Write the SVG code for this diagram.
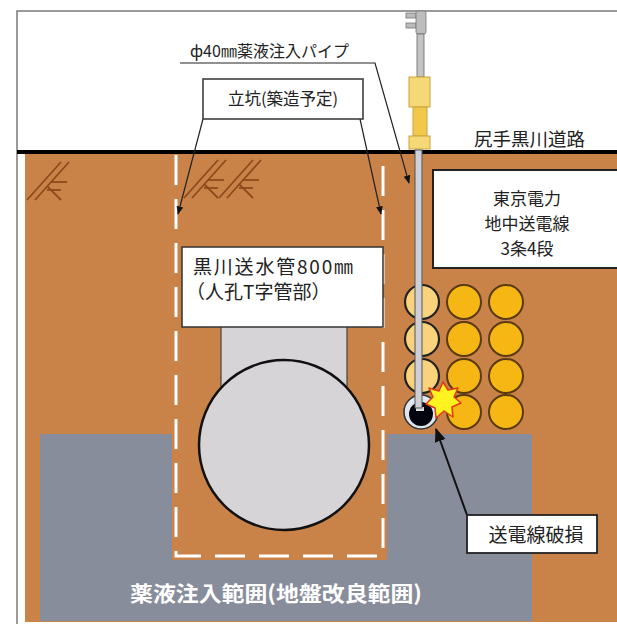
<svg xmlns="http://www.w3.org/2000/svg" width="617" height="624" viewBox="0 0 617 624">
  <style>
    .t { font-family: "Noto Sans CJK JP", "Noto Sans", sans-serif; fill: #222; }
    .box { fill: #fff; stroke: #333; stroke-width: 1.5; }
    .lead { stroke: #222; stroke-width: 1.2; fill: none; }
    .hatch { stroke: #8e4a1e; stroke-width: 1.8; fill: none; }
    .cable { fill: #f6b614; stroke: #5a3a10; stroke-width: 2; }
    .cable-lt { fill: #f8d27c; stroke: #222; stroke-width: 2.2; }
    .yel { fill: #f5d976; stroke: #c9a43c; stroke-width: 1; }
  </style>
  <defs>
    <marker id="arr" viewBox="0 0 10 10" refX="9" refY="5" markerWidth="7" markerHeight="7" orient="auto-start-reverse">
      <path d="M0,1 L10,5 L0,9 z" fill="#111"/>
    </marker>
    <g id="gmark">
      <line x1="0" y1="40" x2="34" y2="2"/>
      <line x1="8" y1="40" x2="42" y2="2"/>
      <line x1="20" y1="26" x2="34" y2="40"/>
      <line x1="24" y1="22" x2="40" y2="22"/>
      <line x1="20" y1="30" x2="34" y2="30"/>
    </g>
  </defs>

  <!-- ground / road background -->
  <rect x="0" y="0" width="617" height="624" fill="#fff"/>
  <rect x="17" y="11" width="620" height="620" fill="#fff" stroke="#7a7a7a" stroke-width="1.5"/>
  <rect x="25" y="153" width="600" height="469" fill="#c98348"/>
  <!-- grouting zone -->
  <rect id="grout-zone" x="40" y="434" width="492" height="187" fill="#888d9c"/>
  <!-- shaft interior -->
  <rect x="172" y="155" width="215" height="405" fill="#c98348"/>
  <line x1="17" y1="152" x2="617" y2="152" stroke="#000" stroke-width="4"/>

  <!-- ground marks -->
  <g class="hatch">
    <use href="#gmark" x="27" y="160"/>
    <use href="#gmark" x="184" y="158"/>
    <use href="#gmark" x="219" y="158"/>
  </g>

  <!-- shaft outline (planned): sides and bottom only -->
  <g id="shaft">
    <path d="M176,155 V556 H383 V155" fill="none" stroke="#fff" stroke-width="3" stroke-dasharray="30 14"/>
  </g>

  <!-- water main -->
  <g id="water-main">
    <rect x="221" y="326" width="126" height="70" fill="#d6d4d7" stroke="#444" stroke-width="1.2"/>
    <circle cx="284" cy="445" r="85" fill="#d6d4d7" stroke="#111" stroke-width="2.5"/>
    <rect class="box" x="182" y="247" width="201" height="80"/>
    <text class="t" x="193" y="274" font-size="19" textLength="160" lengthAdjust="spacing">黒川送水管800㎜</text>
    <text class="t" x="186" y="299" font-size="19">（人孔T字管部）</text>
  </g>

  <!-- power cables 3 x 4 -->
  <g id="cables">
    <circle class="cable-lt" cx="422" cy="302" r="17"/>
    <circle class="cable-lt" cx="422" cy="339" r="17"/>
    <circle class="cable-lt" cx="422" cy="376" r="17"/>
    <circle class="cable" cx="464" cy="302" r="17"/>
    <circle class="cable" cx="464" cy="339" r="17"/>
    <circle class="cable" cx="464" cy="376" r="17"/>
    <circle class="cable" cx="464" cy="412" r="17"/>
    <circle class="cable" cx="506" cy="302" r="17"/>
    <circle class="cable" cx="506" cy="339" r="17"/>
    <circle class="cable" cx="506" cy="376" r="17"/>
    <circle class="cable" cx="506" cy="412" r="17"/>
  </g>

  <!-- damaged cable -->
  <g id="damaged-cable">
    <circle cx="421" cy="412" r="17" fill="#dfe6ee" stroke="#333" stroke-width="1.5"/>
    <circle cx="421" cy="414" r="12" fill="#050510"/>
    <rect x="416" y="407" width="8" height="4" fill="#ddd"/>
  </g>

  <!-- injection pipe -->
  <g id="pipe">
    <rect x="406" y="13" width="10" height="5" fill="#bbb" stroke="#777" stroke-width="0.8"/>
    <rect x="406" y="23" width="10" height="5" fill="#bbb" stroke="#777" stroke-width="0.8"/>
    <rect x="416" y="11" width="10" height="23" rx="2" fill="#bdbdbd" stroke="#777" stroke-width="0.8"/>
    <rect x="417" y="34" width="7" height="43" fill="#c4c4c4" stroke="#666" stroke-width="0.8"/>
    <rect class="yel" x="409" y="77" width="21" height="30"/>
    <rect x="413" y="107" width="14" height="29" fill="#f2c84a" stroke="#c9a43c" stroke-width="1"/>
    <rect class="yel" x="409" y="136" width="21" height="13"/>
    <rect x="415" y="150" width="7" height="258" fill="#cfd0d6" stroke="#555" stroke-width="1"/>
  </g>

  <!-- damage star -->
  <polygon id="star" points="443,382 448,390 458,388 454,397 461,403 452,407 453,417 444,411 436,418 435,408 426,404 433,397 429,388 439,391" fill="#fff21e" stroke="#e23a16" stroke-width="1.5" stroke-linejoin="round"/>

  <!-- leader lines -->
  <g id="connectors">
    <polyline class="lead" points="180,63 375,63 409,183" marker-end="url(#arr)"/>
    <line class="lead" x1="203" y1="119" x2="178" y2="214" marker-end="url(#arr)"/>
    <line class="lead" x1="360" y1="119" x2="381" y2="214" marker-end="url(#arr)"/>
    <line x1="467" y1="515" x2="436" y2="429" stroke="#111" stroke-width="2" marker-end="url(#arr)"/>
  </g>

  <!-- labels -->
  <g id="label-pipe">
    <text class="t" x="190" y="57" font-size="16">ф40㎜薬液注入パイプ</text>
  </g>
  <g id="label-shaft">
    <rect class="box" x="203" y="79" width="160" height="40"/>
    <text class="t" x="283" y="105" font-size="16.5" text-anchor="middle">立坑(築造予定)</text>
  </g>
  <g id="label-road">
    <text class="t" x="474" y="146" font-size="18.5">尻手黒川道路</text>
  </g>
  <g id="label-power">
    <rect x="433" y="170" width="190" height="98" fill="#fff" stroke="#222" stroke-width="2"/>
    <text class="t" x="527" y="205" font-size="17" text-anchor="middle">東京電力</text>
    <text class="t" x="527" y="230" font-size="17" text-anchor="middle">地中送電線</text>
    <text class="t" x="527" y="255" font-size="17" text-anchor="middle">3条4段</text>
  </g>
  <g id="label-damage">
    <rect x="467" y="515" width="130" height="38" fill="#fff" stroke="#222" stroke-width="1.8"/>
    <text class="t" x="536" y="542" font-size="19" text-anchor="middle">送電線破損</text>
  </g>
  <g id="label-zone">
    <text class="t" x="130" y="601" font-size="21" font-weight="bold" style="fill:#fff" textLength="292" lengthAdjust="spacingAndGlyphs">薬液注入範囲(地盤改良範囲)</text>
  </g>
</svg>
